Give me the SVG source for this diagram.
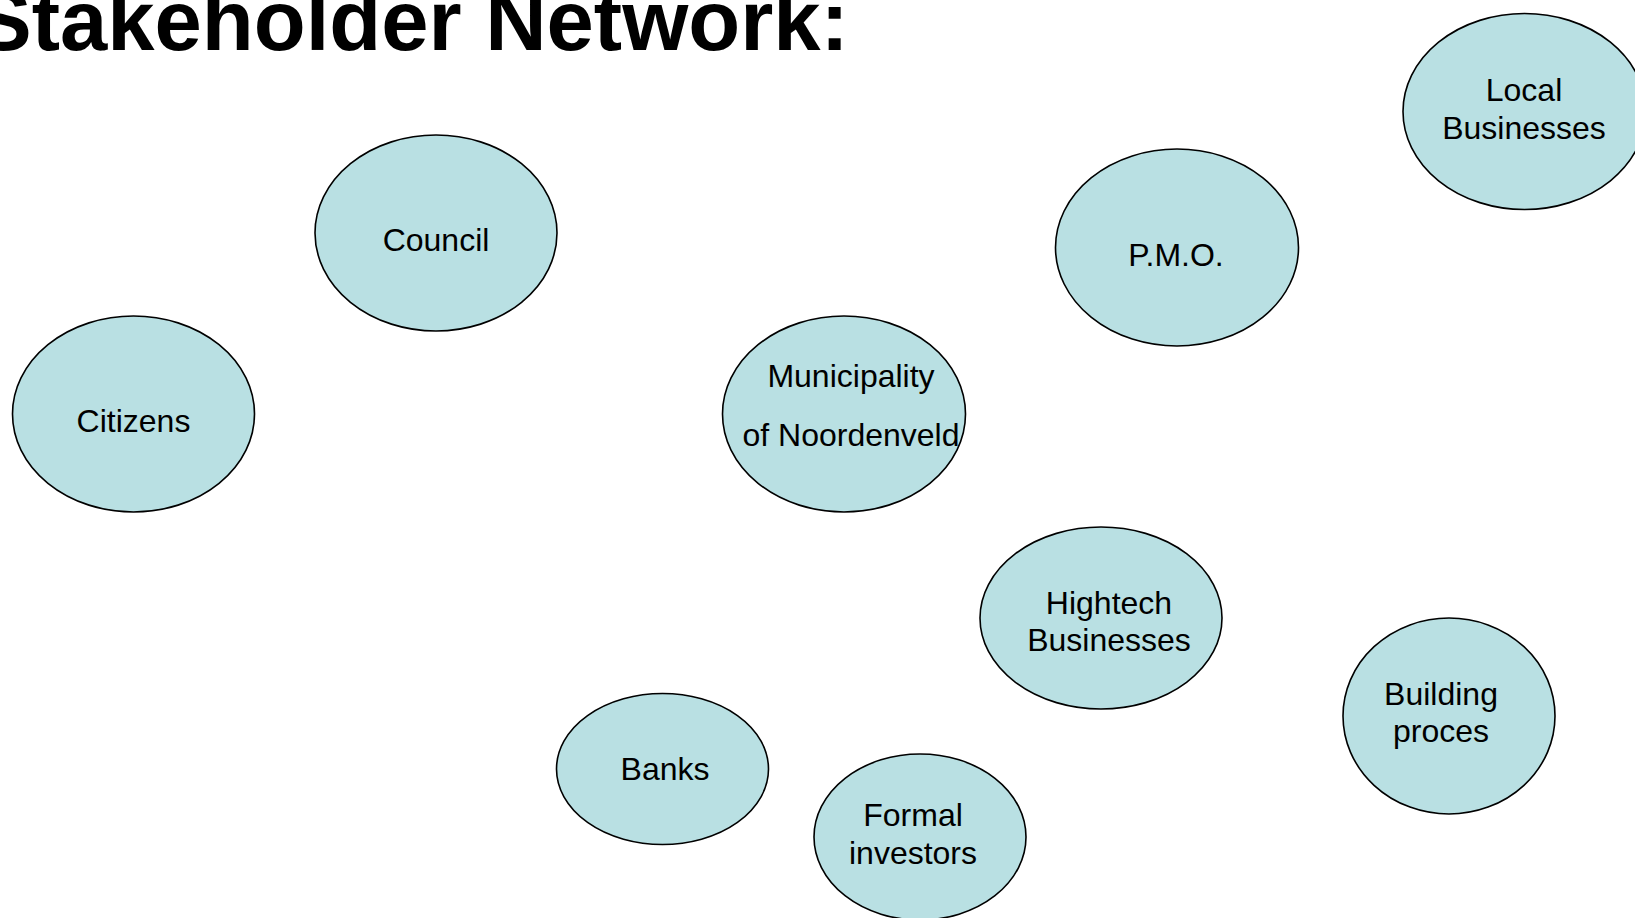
<svg xmlns="http://www.w3.org/2000/svg" width="1635" height="918" viewBox="0 0 1635 918">
<style>
.n ellipse{fill:#B9E0E3;stroke:#000;stroke-width:1.6}
.n text{font-family:"Liberation Sans",Arial,sans-serif;font-size:32px;fill:#000;text-anchor:middle}
.title{font-family:"Liberation Sans",Arial,sans-serif;font-size:85px;font-weight:bold;fill:#000}
</style>
<rect width="1635" height="918" fill="#fff"/>
<text class="title" x="-25" y="50">Stakeholder Network:</text>
<g id="connectors"></g>
<g id="council" class="n"><ellipse cx="436" cy="233" rx="121" ry="98"/><text x="436" y="251">Council</text></g>
<g id="citizens" class="n"><ellipse cx="133.5" cy="414" rx="121" ry="98"/><text x="133.5" y="432">Citizens</text></g>
<g id="municipality" class="n"><ellipse cx="844" cy="414" rx="121.5" ry="98"/><text x="851" y="387">Municipality</text><text x="851" y="446">of Noordenveld</text></g>
<g id="pmo" class="n"><ellipse cx="1177" cy="247.5" rx="121.5" ry="98.5"/><text x="1176" y="266">P.M.O.</text></g>
<g id="local-businesses" class="n"><ellipse cx="1524.5" cy="111.5" rx="121.5" ry="98"/><text x="1524" y="101">Local</text><text x="1524" y="138.5">Businesses</text></g>
<g id="hightech-businesses" class="n"><ellipse cx="1101" cy="618" rx="121" ry="91"/><text x="1109" y="614">Hightech</text><text x="1109" y="651">Businesses</text></g>
<g id="building-proces" class="n"><ellipse cx="1449" cy="716" rx="106" ry="98"/><text x="1441" y="705">Building</text><text x="1441" y="742">proces</text></g>
<g id="banks" class="n"><ellipse cx="662.5" cy="769" rx="106" ry="75.5"/><text x="665" y="780">Banks</text></g>
<g id="formal-investors" class="n"><ellipse cx="920" cy="837" rx="106" ry="83"/><text x="913" y="826">Formal</text><text x="913" y="864">investors</text></g>
</svg>
